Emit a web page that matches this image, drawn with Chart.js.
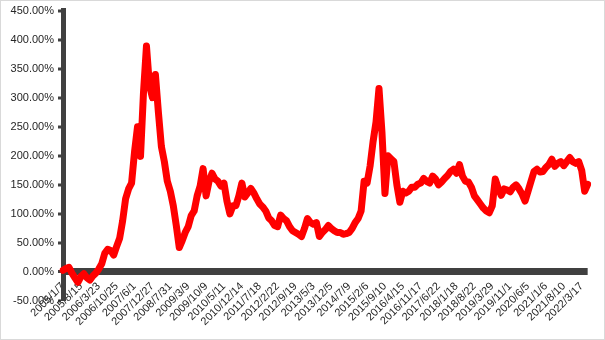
<!DOCTYPE html>
<html>
<head>
<meta charset="utf-8">
<script src="https://cdn.jsdelivr.net/npm/chart.js@4"></script>
<style>
  html, body { margin: 0; padding: 0; background: #fff; }
  #wrap { position: relative; width: 605px; height: 340px; }
  #wrap canvas { position: absolute; left: 0; top: 0; }
  #frame { position: absolute; left: 0; top: 0; width: 603px; height: 338px; border: 1px solid #d9d9d9; pointer-events: none; }
</style>
</head>
<body>
<div id="wrap">
  <canvas id="c" width="605" height="340"></canvas>
  <div id="frame"></div>
</div>
<script>
// Tick labels shown on the category axis (one every 6 data points)
const tickLabels = [
  "2005/1/7","2005/8/15","2006/3/23","2006/10/25","2007/6/1","2007/12/27",
  "2008/7/31","2009/3/9","2009/10/9","2010/5/11","2010/12/14","2011/7/18",
  "2012/2/22","2012/9/19","2013/5/3","2013/12/5","2014/7/9","2015/2/6",
  "2015/9/10","2016/4/15","2016/11/17","2017/6/22","2018/1/18","2018/8/22",
  "2019/3/29","2019/11/1","2020/6/5","2021/1/6","2021/8/10","2022/3/17"
];
const pointsPerTick = 6;

const returnsPct = [
  3, 6, 8, -2, -10, -18, -8, -3, -10, -14,
  -7, -2, 5, 14, 32, 39, 37, 29, 44, 58,
  88, 126, 143, 153, 207, 250, 199, 309, 389, 321,
  300, 340, 275, 216, 190, 156, 139, 114, 80, 42,
  54, 68, 78, 97, 105, 131, 148, 178, 131, 156,
  170, 160, 156, 148, 153, 122, 100, 114, 114, 131,
  153, 129, 136, 144, 136, 126, 117, 112, 105, 93,
  88, 80, 78, 98, 92, 88, 78, 71, 68, 65,
  61, 75, 92, 85, 82, 85, 61, 68, 73, 80,
  75, 71, 68, 68, 65, 66, 68, 75, 85, 92,
  105, 156, 153, 182, 224, 258, 316, 240, 135, 200,
  195, 190, 150, 120, 139, 136, 139, 146, 146, 151,
  153, 161, 156, 153, 165, 160, 150, 155, 161, 166,
  173, 177, 170, 185, 165, 156, 155, 146, 131, 124,
  117, 110, 105, 102, 114, 160, 144, 132, 143, 141,
  138, 146, 150, 143, 134, 122, 139, 156, 173, 177,
  172, 173, 180, 185, 194, 182, 187, 190, 183, 190,
  197, 190, 187, 190, 175, 139, 151
];

// Category labels: tick label at every 6th point, blank otherwise
const categories = returnsPct.map((_, i) =>
  (i % pointsPerTick === 0 && tickLabels[i / pointsPerTick]) ? tickLabels[i / pointsPerTick] : ""
);

const fam = "'Liberation Sans', Arial, sans-serif";
Chart.defaults.font.family = fam;
Chart.defaults.font.size = 11;
const textColor = "#262626";
const axisColor = "#404040";

new Chart(document.getElementById("c"), {
  type: "line",
  data: {
    labels: categories,
    datasets: [{
      data: returnsPct,
      borderColor: "#ff0000",
      backgroundColor: "#ff0000",
      borderWidth: 7,
      pointRadius: 0,
      tension: 0,
      borderJoinStyle: "round",
      borderCapStyle: "round",
      fill: false
    }]
  },
  options: {
    responsive: false,
    animation: false,
    devicePixelRatio: 1,
    layout: { padding: { top: 7, right: 12, bottom: 39, left: 0 } },
    plugins: { legend: { display: false }, tooltip: { enabled: false } },
    scales: {
      x: {
        type: "category",
        position: { y: 0 },
        offset: false,
        grid: { display: false, drawOnChartArea: false, drawTicks: false },
        border: { display: false },
        ticks: {
          autoSkip: false,
          minRotation: 45,
          maxRotation: 45,
          padding: 8,
          font: { family: fam, size: 11 },
          color: textColor
        }
      },
      y: {
        min: -50,
        max: 450,
        grid: {
          drawOnChartArea: true,
          drawTicks: true,
          tickLength: 5,
          tickWidth: 3,
          tickColor: axisColor,
          color: axisColor,
          lineWidth: ctx => (ctx.tick && ctx.tick.value === 0) ? 7 : 0
        },
        border: { color: axisColor, width: 5 },
        ticks: {
          stepSize: 50,
          padding: 4,
          font: { family: fam, size: 11 },
          color: textColor,
          callback: v => v.toFixed(2) + "%"
        },
        afterFit: s => { s.width = 63; }
      }
    }
  }
});
</script>
</body>
</html>
